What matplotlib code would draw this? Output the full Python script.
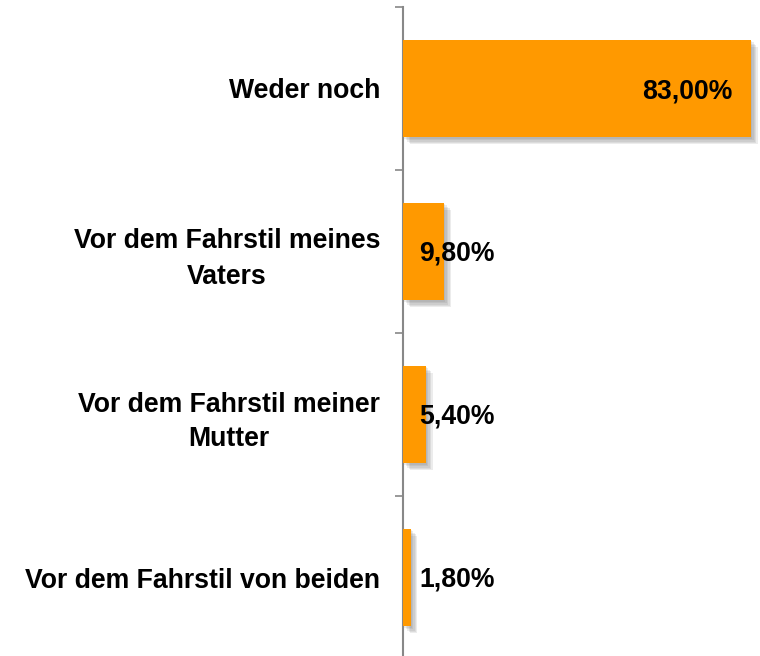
import matplotlib
matplotlib.use("Agg")
import matplotlib.pyplot as plt
import matplotlib.patheffects as pe
from matplotlib.transforms import offset_copy

categories = ["Weder noch", "Vor dem Fahrstil meines\nVaters",
              "Vor dem Fahrstil meiner\nMutter", "Vor dem Fahrstil von beiden"]
values = [83.0, 9.8, 5.4, 1.8]
value_labels = ["83,00%", "9,80%", "5,40%", "1,80%"]

plt.rcParams['font.family'] = ['Liberation Sans', 'DejaVu Sans']

fig = plt.figure(figsize=(7.6, 6.56), dpi=100)
ax = fig.add_axes([403/760, -3/656, 357/760, 652/656])

ypos = list(range(len(categories)))
shadow = [pe.SimplePatchShadow(offset=(o, -o), shadow_rgbFace='#707070', alpha=0.13)
          for o in (1.0, 2.0, 3.0, 4.0, 5.0)] + [pe.Normal()]
bars = ax.barh(ypos, values, height=0.6, color='#FF9900', zorder=3)
for b in bars:
    b.set_path_effects(shadow)

ax.set_xlim(0, 85.2)
ax.set_ylim(len(categories) - 0.5, -0.5)
ax.set_yticks([y - 0.5 for y in range(len(categories) + 1)])
ax.set_yticklabels([])
ax.set_yticks(ypos, minor=True)
labs = ax.set_yticklabels(categories, minor=True, fontsize=19.2, fontweight='bold',
                          multialignment='center')
for t in labs:
    t.set_linespacing(1.45)
ax.tick_params(axis='y', which='minor', length=0, pad=16.5)
ax.tick_params(axis='y', which='major', length=6, width=1.2, color='#888888')
ax.set_xticks([])
for s in ['top', 'right', 'bottom']:
    ax.spines[s].set_visible(False)
ax.spines['left'].set_color('#888888')
ax.spines['left'].set_linewidth(1.5)

for y, v, lab in zip(ypos, values, value_labels):
    if v > 50:
        tr = offset_copy(ax.transData, fig=fig, x=-18, y=-3, units='dots')
        ax.text(v, y, lab, transform=tr, ha='right', va='center', fontsize=19.2,
                fontweight='bold', color='black', zorder=5)
    else:
        tr = offset_copy(ax.transData, fig=fig, x=16, y=-2, units='dots')
        ax.text(0, y, lab, transform=tr, ha='left', va='center', fontsize=19.2,
                fontweight='bold', color='black', zorder=5)

fig.savefig("out.png", dpi=100)
